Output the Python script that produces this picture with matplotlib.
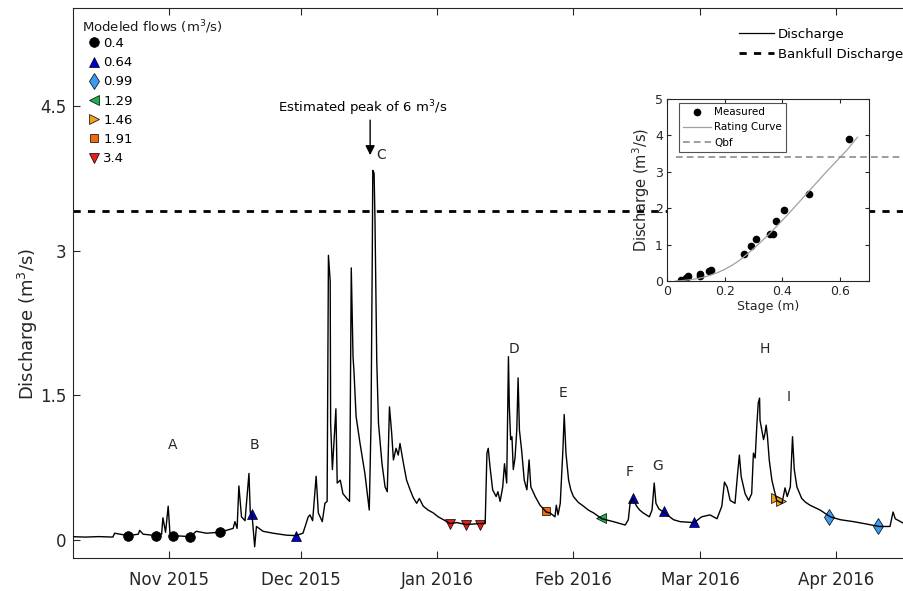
import numpy as np
import pandas as pd
import matplotlib
matplotlib.use('Agg')
import matplotlib.pyplot as plt
import matplotlib.dates as mdates
from matplotlib.lines import Line2D

plt.rcParams['font.family'] = ['DejaVu Sans']

start = pd.Timestamp('2015-10-01')

# hydrograph: days after 1 Oct 2015, discharge (m3/s)
flow_day = [9.1, 12.0, 15.0, 18.2, 18.6, 21.7, 24.0, 24.3, 25.1, 28.1, 29.3, 29.6, 30.2, 30.8, 31.2,
            31.9, 35.8, 37.2, 39.5, 42.5, 45.6, 46.0, 46.5, 46.9, 47.5, 48.3, 49.2, 49.5,
            49.9, 50.5, 50.9, 52.4, 54.7, 57.7, 59.9, 61.5, 62.7, 63.1, 63.7, 64.5, 65.0,
            65.9, 66.5, 67.0, 67.3, 67.7, 67.8, 68.2, 69.0, 69.3, 70.0, 70.6, 71.5, 72.1,
            72.2, 72.5, 72.9, 73.1, 73.6, 74.5, 75.6, 76.6, 77.0, 77.3, 77.4, 77.7, 77.9,
            78.3, 78.7, 79.5, 80.2, 80.7, 81.2, 81.7, 82.1, 82.7, 83.2, 83.6, 84.4, 85.1, 85.9,
            86.6, 87.4, 88.0, 88.9, 90.0, 91.2, 92.3, 93.5, 95.0, 96.5, 98.7, 101.8, 103.0, 103.4, 103.7,
            104.1, 104.7, 105.5, 105.9, 106.4, 107.0, 107.4, 107.9, 108.3, 108.5, 108.8,
            109.1, 109.4, 109.8, 110.2, 110.5, 110.8, 111.3, 111.9, 112.5, 113.0, 113.4,
            114.4, 115.5, 116.9, 117.8, 118.9, 119.2, 119.6, 120.1, 120.7, 121.0, 121.4,
            122.0, 122.5, 123.1, 124.2, 125.4, 126.5, 127.7, 129.6, 132.2, 134.9, 135.6, 136.0, 136.6, 137.5,
            138.2, 139.0, 140.4, 141.0, 141.5, 141.9, 142.6, 143.6, 145.9, 147.4, 150.6, 152.3, 154.2,
            155.8, 156.9, 157.5, 158.1, 158.8, 159.9, 160.5, 160.9, 161.3, 162.2, 163.0,
            163.7, 164.1, 164.5, 164.9, 165.2, 165.5, 165.6, 166.0, 166.4, 166.7, 167.0,
            167.3, 167.7, 168.3, 169.4, 170.6, 171.3, 171.8, 172.5, 173.0, 173.4, 174.0,
            175.1, 176.0, 177.0, 179.3, 181.6, 183.9, 186.9, 189.9, 192.7, 195.2, 195.9, 196.4,
            198.4, 200.0]
flow_q = [0.034, 0.03, 0.035, 0.03, 0.07, 0.045, 0.06, 0.10, 0.06, 0.045, 0.06, 0.23, 0.08, 0.35, 0.07,
          0.045, 0.035, 0.09, 0.07, 0.08, 0.12, 0.19, 0.12, 0.56, 0.24, 0.20, 0.69, 0.28,
          0.26, -0.07, 0.14, 0.09, 0.07, 0.05, 0.045, 0.07, 0.24, 0.26, 0.20, 0.66, 0.28,
          0.19, 0.38, 0.40, 2.95, 2.68, 1.21, 0.73, 1.36, 0.59, 0.62, 0.48, 0.43, 0.40,
          0.83, 2.82, 1.90, 1.76, 1.28, 1.00, 0.69, 0.31, 1.21, 3.04, 3.83, 3.80, 3.32,
          1.87, 1.21, 0.79, 0.55, 0.50, 1.38, 1.11, 0.83, 0.95, 0.88, 1.00, 0.79, 0.62, 0.52,
          0.44, 0.38, 0.43, 0.35, 0.31, 0.28, 0.24, 0.21, 0.17, 0.18, 0.16, 0.17, 0.17, 0.90, 0.95,
          0.76, 0.52, 0.45, 0.50, 0.40, 0.55, 0.79, 0.59, 1.90, 1.38, 1.04,
          1.07, 0.73, 0.85, 1.14, 1.68, 1.14, 0.93, 0.62, 0.52, 0.83, 0.55,
          0.45, 0.36, 0.29, 0.28, 0.24, 0.36, 0.26, 0.38, 0.93, 1.30, 0.90,
          0.62, 0.52, 0.45, 0.39, 0.35, 0.31, 0.28, 0.22, 0.19, 0.155, 0.21, 0.38, 0.43, 0.35,
          0.31, 0.28, 0.24, 0.31, 0.59, 0.38, 0.32, 0.29, 0.21, 0.19, 0.18, 0.24, 0.26,
          0.22, 0.35, 0.60, 0.55, 0.41, 0.38, 0.69, 0.88, 0.66, 0.48, 0.41,
          0.48, 0.90, 0.85, 1.21, 1.42, 1.47, 1.24, 1.14, 1.04, 1.10, 1.19,
          1.07, 0.83, 0.62, 0.41, 0.38, 0.54, 0.45, 0.55, 1.07, 0.73, 0.55,
          0.43, 0.39, 0.36, 0.31, 0.24, 0.21, 0.19, 0.165, 0.14, 0.14, 0.29, 0.22,
          0.17, 0.16]

bankfull = 3.41

# modeled flow sample points (day, discharge)
mod_labels = ['0.4', '0.64', '0.99', '1.29', '1.46', '1.91', '3.4']
mod_markers = ['o', '^', 'd', '<', '>', 's', 'v']
mod_sizes = [7, 7.5, 8.5, 7.5, 7.5, 6, 7.5]
mod_colors = ['#000000', '#0000cc', '#3d9cf0', '#22b04a', '#f0a020', '#f06a10', '#e8201a']
mod_day = [[21.7, 28.1, 31.9, 35.8, 42.5],
           [49.9, 59.9, 136.7, 143.7, 150.6],
           [181.3, 192.5],
           [129.4],
           [169.2, 170.3],
           [116.9],
           [95.0, 98.7, 101.8]]
mod_q = [[0.045, 0.045, 0.045, 0.035, 0.08],
         [0.27, 0.045, 0.44, 0.30, 0.19],
         [0.24, 0.145],
         [0.23],
         [0.44, 0.40],
         [0.30],
         [0.17, 0.16, 0.16]]

# event labels
event_names = ['A', 'B', 'C', 'D', 'E', 'F', 'G', 'H', 'I']
event_day = [31.9, 50.4, 79.3, 109.6, 120.8, 136.0, 142.2, 166.8, 172.2]
event_q = [0.98, 0.98, 3.99, 1.98, 1.52, 0.70, 0.77, 1.98, 1.48]

# inset: rating curve
meas_stage = [0.047, 0.067, 0.073, 0.113, 0.116, 0.145, 0.153, 0.268, 0.291, 0.309,
              0.357, 0.368, 0.378, 0.404, 0.491, 0.631]
meas_q = [0.04, 0.08, 0.13, 0.15, 0.18, 0.28, 0.29, 0.73, 0.95, 1.16,
          1.30, 1.30, 1.64, 1.94, 2.38, 3.91]
curve_stage = [0.03, 0.05, 0.075, 0.10, 0.125, 0.15, 0.175, 0.20, 0.225, 0.25, 0.275, 0.30,
               0.325, 0.35, 0.375, 0.40, 0.425, 0.45, 0.475, 0.50, 0.525, 0.55, 0.575, 0.60,
               0.625, 0.66]
curve_q = [0.0, 0.01, 0.03, 0.06, 0.10, 0.16, 0.23, 0.32, 0.43, 0.56, 0.72, 0.89,
           1.07, 1.26, 1.46, 1.67, 1.88, 2.10, 2.32, 2.54, 2.76, 2.98, 3.19, 3.40,
           3.61, 3.95]

fig = plt.figure(figsize=(9.04, 5.91), dpi=100)
ax = fig.add_axes([0.0808, 0.0558, 0.927, 0.9306])

dates = start + pd.to_timedelta(flow_day, unit='D')
for mk, ms, col, d, q in zip(mod_markers, mod_sizes, mod_colors, mod_day, mod_q):
    ax.plot(start + pd.to_timedelta(d, unit='D'), q, linestyle='none', marker=mk,
            markersize=ms, markerfacecolor=col, markeredgecolor='black',
            markeredgewidth=0.5, zorder=2)
ax.plot(dates, flow_q, color='black', lw=1.0, zorder=3)
ax.axhline(bankfull, color='black', lw=2.0, dashes=(2.6, 2.6), zorder=1)

for name, d, q in zip(event_names, event_day, event_q):
    ax.text(start + pd.Timedelta(days=d), q, name, fontsize=10, color='#262626',
            ha='center', va='center')

peak_x = start + pd.Timedelta(days=76.8)
ax.annotate('', xy=(peak_x, 3.96), xytext=(peak_x, 4.38),
            arrowprops=dict(arrowstyle='-|>', color='black', lw=1.0, mutation_scale=14))
ax.text(start + pd.Timedelta(days=75.2), 4.47, 'Estimated peak of 6 m$^3$/s', fontsize=9.5,
        ha='center', va='center')

ax.set_xlim(start + pd.Timedelta(days=9.13), start + pd.Timedelta(days=200.0))
ax.set_ylim(-0.187, 5.513)
ax.set_yticks([0, 1.5, 3, 4.5])
ax.set_yticklabels(['0', '1.5', '3', '4.5'])
ax.xaxis.set_major_locator(mdates.MonthLocator(bymonthday=1))
ax.xaxis.set_major_formatter(mdates.DateFormatter('%b %Y'))
ax.tick_params(direction='in', length=5, labelsize=12, colors='#262626', top=True, pad=5)
ax.tick_params(axis='x', pad=9)
for s in ax.spines.values():
    s.set_color('#262626')
ax.set_ylabel('Discharge (m$^3$/s)', fontsize=13, color='#262626')
ax.yaxis.set_label_coords(-0.039, 0.4255)

# modeled flows legend
ax.text(82 / 904, 1 - 27 / 591, 'Modeled flows (m$^3$/s)', transform=fig.transFigure,
        fontsize=9.5, ha='left', va='center', color='#1a1a1a')
handles = [Line2D([], [], linestyle='none', marker=mk, markersize=ms, markerfacecolor=col,
                  markeredgecolor='black', markeredgewidth=0.5)
           for mk, ms, col in zip(mod_markers, mod_sizes, mod_colors)]
leg1 = ax.legend(handles, mod_labels, loc='upper left',
                 bbox_to_anchor=(86 / 904, 1 - 37 / 591), bbox_transform=fig.transFigure,
                 frameon=False, fontsize=9.5, handlelength=1.2,
                 handletextpad=0.1, labelspacing=0.47, borderpad=0, borderaxespad=0)
ax.add_artist(leg1)

# discharge legend
h2 = [Line2D([], [], color='black', lw=0.9),
      Line2D([], [], color='black', lw=2.0, dashes=(2.6, 2.6))]
ax.legend(h2, ['Discharge', 'Bankfull Discharge'], loc='upper right',
          bbox_to_anchor=(903 / 904, 1 - 28 / 591), bbox_transform=fig.transFigure,
          frameon=False, fontsize=9.5, handlelength=2.65, handletextpad=0.3,
          labelspacing=0.5, borderpad=0, borderaxespad=0)

# inset rating curve
ins = fig.add_axes([0.7378, 0.5245, 0.2235, 0.308])
ins.plot(meas_stage, meas_q, 'o', color='black', markersize=4.5, label='Measured')
ins.plot(curve_stage, curve_q, color='#a0a0a0', lw=0.9, label='Rating Curve')
ins.plot([0.03, 0.84], [bankfull, bankfull], color='#8c8c8c', lw=1.2, dashes=(4, 2.5),
         clip_on=False, label='Qbf')
ins.set_xlim(0, 0.7)
ins.set_ylim(0, 5)
ins.set_xticks([0, 0.2, 0.4, 0.6])
ins.set_xticklabels(['0', '0.2', '0.4', '0.6'])
ins.set_yticks([0, 1, 2, 3, 4, 5])
ins.tick_params(direction='in', length=3, labelsize=9, colors='#262626', top=True, right=True, pad=3)
for s in ins.spines.values():
    s.set_color('#262626')
ins.set_xlabel('Stage (m)', fontsize=9, color='#262626', labelpad=1)
ins.set_ylabel('Discharge (m$^3$/s)', fontsize=10.5, color='#262626', labelpad=2)
ileg = ins.legend(loc='upper left', bbox_to_anchor=(0.059, 0.978), fontsize=7.5, frameon=True,
                  fancybox=False, edgecolor='#262626', handlelength=2.7, borderpad=0.4,
                  labelspacing=0.5, handletextpad=0.3, borderaxespad=0)
ileg.get_frame().set_linewidth(0.8)

fig.savefig('out.png', dpi=100)
